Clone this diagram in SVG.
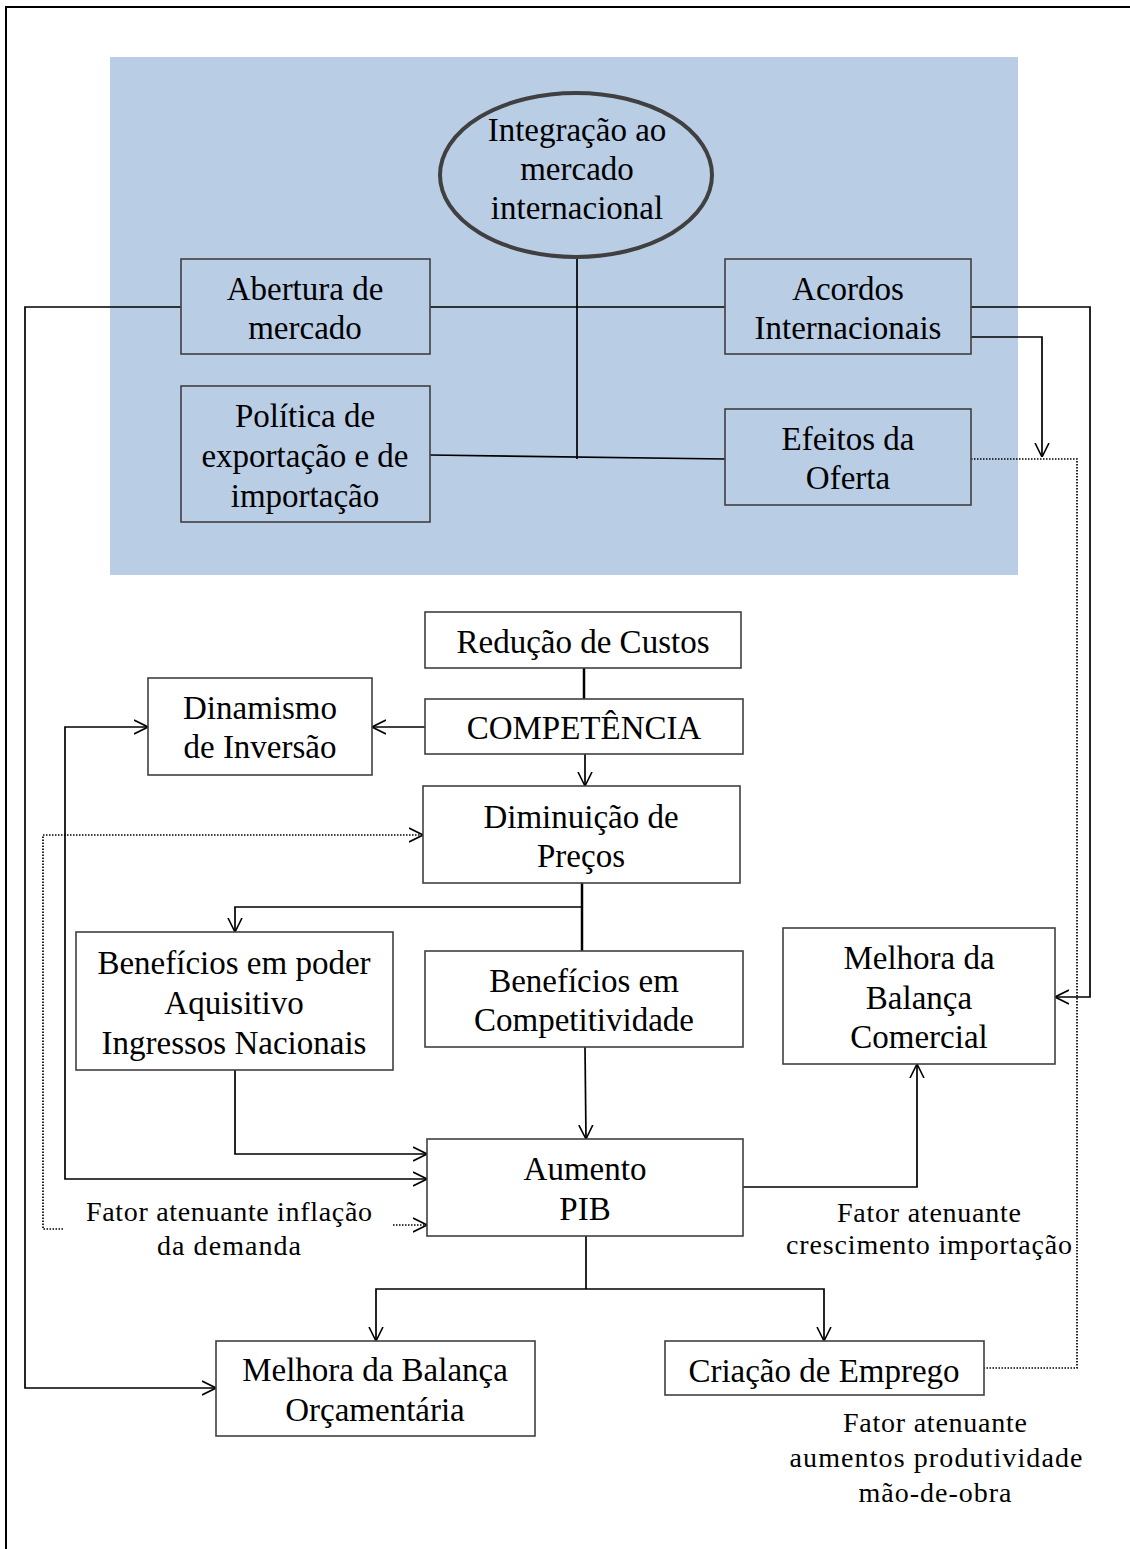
<svg xmlns="http://www.w3.org/2000/svg" width="1130" height="1549" viewBox="0 0 1130 1549">
<defs>
<style>
.box{fill:none;stroke:#404040;stroke-width:1.6}
.t{font-family:"Liberation Serif","Times New Roman",serif;font-size:33px;text-anchor:middle;fill:#000}
.s{font-size:28px}
.c{fill:none;stroke:#000;stroke-width:1.7}
.k{stroke-width:2.5}
.d{stroke-dasharray:1.5 1.5}
</style>
<marker id="arr" viewBox="0 0 14 16" refX="14" refY="8" markerWidth="14" markerHeight="16" markerUnits="userSpaceOnUse" orient="auto-start-reverse">
<path d="M0,1 L14,8 L0,15" fill="none" stroke="#000" stroke-width="1.6"/>
</marker>
</defs>
<rect x="0" y="0" width="1130" height="1549" fill="#fff"/>
<path d="M6,1549 V7 H1130" fill="none" stroke="#000" stroke-width="2"/>
<rect id="blue-area" x="110" y="57" width="908" height="518" fill="#b9cde5"/>

<g id="connectors">
<path class="c" d="M430,307 H725"/>
<path class="c" d="M577,257 V459"/>
<path class="c" d="M430,455 L725,459"/>
<path class="c" d="M181,307 H25 V1388 H216" marker-end="url(#arr)"/>
<path class="c" d="M971,307 H1090 V997 H1055" marker-end="url(#arr)"/>
<path class="c" d="M971,337 H1042 V457" marker-end="url(#arr)"/>
<path class="c d" d="M971,459 H1077 V1368 H984"/>
<path class="c k" d="M584,668 V699"/>
<path class="c" d="M425,727 H372" marker-end="url(#arr)"/>
<path class="c" d="M585,754 V786" marker-end="url(#arr)"/>
<path class="c d" d="M63,1229 H43 V835 H423" marker-end="url(#arr)"/>
<path class="c d" d="M393,1225 H427" marker-end="url(#arr)"/>
<path class="c k" d="M582,883 V951"/>
<path class="c" d="M582,907 H235 V932" marker-end="url(#arr)"/>
<path class="c" d="M585,1047 L586,1139" marker-end="url(#arr)"/>
<path class="c" d="M235,1070 V1154 H427" marker-end="url(#arr)"/>
<path class="c" d="M148,727 H65 V1179 H427" marker-start="url(#arr)" marker-end="url(#arr)"/>
<path class="c" d="M743,1187 H917 V1064" marker-end="url(#arr)"/>
<path class="c" stroke-width="3" d="M586,1236 V1289"/>
<path class="c" d="M376,1341 V1289 H824 V1341" marker-start="url(#arr)" marker-end="url(#arr)"/>
</g>

<g id="integracao">
<ellipse cx="576" cy="175" rx="136" ry="82" fill="none" stroke="#404040" stroke-width="4"/>
<text class="t" x="577" y="141">Integração ao</text>
<text class="t" x="577" y="180">mercado</text>
<text class="t" x="577" y="219">internacional</text>
</g>
<g id="abertura">
<rect class="box" x="181" y="259" width="249" height="95"/>
<text class="t" x="305" y="300">Abertura de</text>
<text class="t" x="305" y="339">mercado</text>
</g>
<g id="acordos">
<rect class="box" x="725" y="259" width="246" height="95"/>
<text class="t" x="848" y="300">Acordos</text>
<text class="t" x="848" y="339">Internacionais</text>
</g>
<g id="politica">
<rect class="box" x="181" y="386" width="249" height="136"/>
<text class="t" x="305" y="427">Política de</text>
<text class="t" x="305" y="467">exportação e de</text>
<text class="t" x="305" y="507">importação</text>
</g>
<g id="efeitos">
<rect class="box" x="725" y="409" width="246" height="96"/>
<text class="t" x="848" y="450">Efeitos da</text>
<text class="t" x="848" y="489">Oferta</text>
</g>

<g id="reducao">
<rect class="box" x="425" y="612" width="316" height="56"/>
<text class="t" x="583" y="653">Redução de Custos</text>
</g>
<g id="competencia">
<rect class="box" x="425" y="699" width="318" height="55"/>
<text class="t" x="584" y="739">COMPETÊNCIA</text>
</g>
<g id="dinamismo">
<rect class="box" x="148" y="678" width="224" height="97"/>
<text class="t" x="260" y="719">Dinamismo</text>
<text class="t" x="260" y="758">de Inversão</text>
</g>
<g id="diminuicao">
<rect class="box" x="423" y="786" width="317" height="97"/>
<text class="t" x="581" y="828">Diminuição de</text>
<text class="t" x="581" y="867">Preços</text>
</g>
<g id="beneficios-poder">
<rect class="box" x="76" y="932" width="317" height="138"/>
<text class="t" x="234" y="974">Benefícios em poder</text>
<text class="t" x="234" y="1014">Aquisitivo</text>
<text class="t" x="234" y="1054">Ingressos Nacionais</text>
</g>
<g id="beneficios-comp">
<rect class="box" x="425" y="951" width="318" height="96"/>
<text class="t" x="584" y="992">Benefícios em</text>
<text class="t" x="584" y="1031">Competitividade</text>
</g>
<g id="balanca-comercial">
<rect class="box" x="783" y="928" width="272" height="136"/>
<text class="t" x="919" y="969">Melhora da</text>
<text class="t" x="919" y="1009">Balança</text>
<text class="t" x="919" y="1048">Comercial</text>
</g>
<g id="aumento">
<rect class="box" x="427" y="1139" width="316" height="97"/>
<text class="t" x="585" y="1180">Aumento</text>
<text class="t" x="585" y="1220">PIB</text>
</g>
<g id="balanca-orcamentaria">
<rect class="box" x="216" y="1341" width="319" height="95"/>
<text class="t" x="375" y="1381">Melhora da Balança</text>
<text class="t" x="375" y="1421">Orçamentária</text>
</g>
<g id="emprego">
<rect class="box" x="665" y="1341" width="319" height="54"/>
<text class="t" x="824" y="1382">Criação de Emprego</text>
</g>

<g id="labels">
<text class="t s" x="229" y="1221" textLength="286" lengthAdjust="spacing">Fator atenuante inflação</text>
<text class="t s" x="229" y="1255" textLength="144" lengthAdjust="spacing">da demanda</text>
<text class="t s" x="929" y="1222" textLength="184" lengthAdjust="spacing">Fator atenuante</text>
<text class="t s" x="929" y="1254" textLength="286" lengthAdjust="spacing">crescimento importação</text>
<text class="t s" x="935" y="1432" textLength="184" lengthAdjust="spacing">Fator atenuante</text>
<text class="t s" x="936" y="1467" textLength="293" lengthAdjust="spacing">aumentos  produtividade</text>
<text class="t s" x="935" y="1502" textLength="153" lengthAdjust="spacing">mão-de-obra</text>
</g>
</svg>
